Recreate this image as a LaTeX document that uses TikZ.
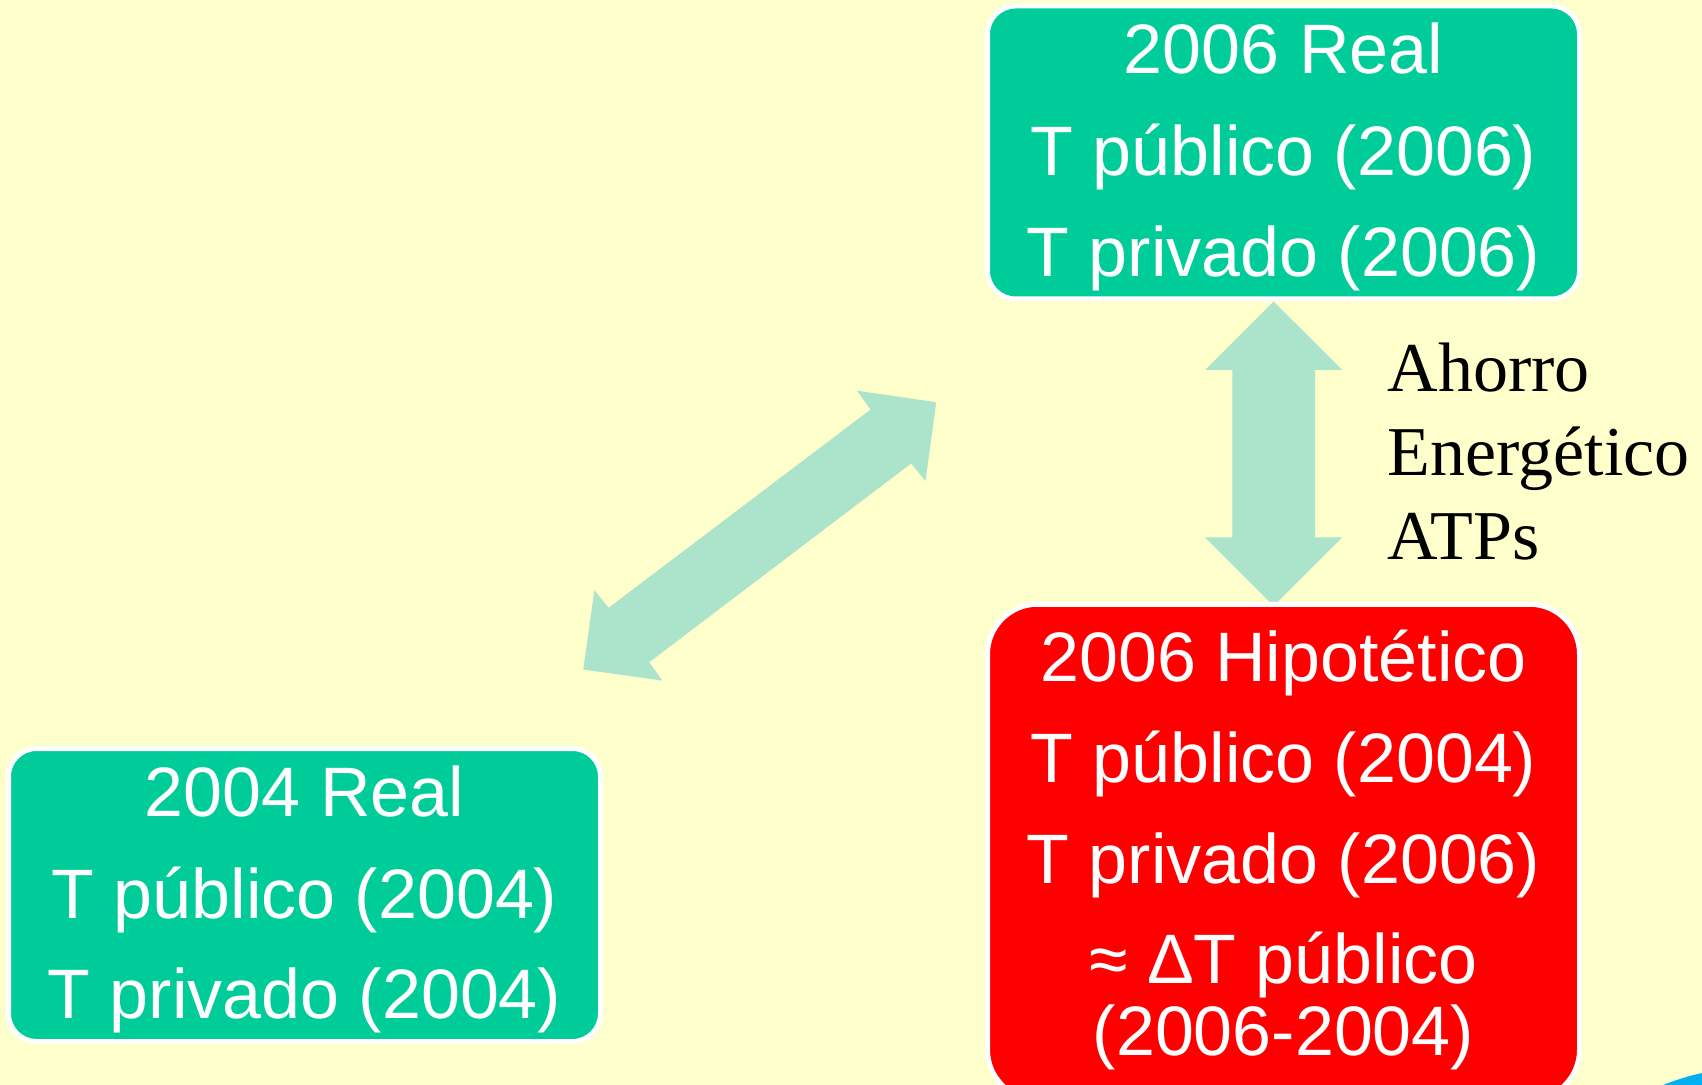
\documentclass[tikz,border=0pt]{standalone}
\usepackage{fontspec}
\newfontfamily\arialf{Liberation Sans}
\newfontfamily\timesf{Liberation Serif}
\definecolor{bg}{HTML}{FFFFCC}
\definecolor{boxgreen}{HTML}{00CC99}
\definecolor{boxred}{HTML}{FF0000}
\definecolor{arrowmint}{HTML}{ABE3CB}
\definecolor{decoblue}{HTML}{00B0F0}
\begin{document}
\begin{tikzpicture}[x=0.5pt,y=-0.5pt,
  greenbox/.style={draw=white, line width=2.5pt, fill=boxgreen, rounded corners=14pt,
    minimum width=296pt, minimum height=146.5pt, inner sep=0pt},
  redbox/.style={draw=white, line width=2.5pt, fill=boxred, rounded corners=25pt,
    minimum width=296pt, minimum height=247.75pt, inner sep=0pt},
  boxline/.style={anchor=base, text=white, inner sep=0pt,
    font=\arialf\fontsize{35}{35}\selectfont},
  sideline/.style={anchor=base west, text=black, inner sep=0pt,
    font=\timesf\fontsize{35}{35}\selectfont},
  blockarrow/.style={fill=arrowmint}]
\useasboundingbox (0,0) rectangle (1702,1085);
\clip (0,0) rectangle (1702,1085);
\fill[bg] (0,0) rectangle (1702,1085);
% decoration
\fill[decoblue] (1640,1095) .. controls (1670,1081) and (1690,1075) .. (1712,1071) -- (1712,1095) -- cycle;
% block arrows
\fill[blockarrow] (1273.7,301.5) -- (1342.3,370) -- (1315,370) -- (1315,537.3) -- (1342.3,537.3)
  -- (1273.7,606) -- (1205,537.3) -- (1232.3,537.3) -- (1232.3,370) -- (1205,370) -- cycle;
\fill[blockarrow] (936.2,402.2) -- (857,390.7) -- (870.5,409.6) -- (608.6,607.8) -- (594.4,590.2)
  -- (583.3,669.5) -- (662.4,680.6) -- (649.2,662.2) -- (911.2,463.4) -- (925.5,481) -- cycle;
% boxes
\node[greenbox] (real06) at (1283.5,152.5) {};
\node[greenbox] (real04) at (304.5,895) {};
\node[redbox] (hyp06) at (1283.5,852) {};
% texts top box
\node[boxline] (t1a) at (1283.5,74) {2006 Real};
\node[boxline] (t1b) at (1283.5,176) {T público (2006)};
\node[boxline] (t1c) at (1283.5,277) {T privado (2006)};
% texts bottom-left box
\node[boxline] (t2a) at (304.5,816) {2004 Real};
\node[boxline] (t2b) at (304.5,918) {T público (2004)};
\node[boxline] (t2c) at (304.5,1018) {T privado (2004)};
% texts red box
\node[boxline] (t3a) at (1283.5,681) {2006 Hipotético};
\node[boxline] (t3b) at (1283.5,782) {T público (2004)};
\node[boxline] (t3c) at (1283.5,883) {T privado (2006)};
\node[boxline] (t3d) at (1283.5,983) {≈ ΔT público};
\node[boxline] (t3e) at (1283.5,1055) {(2006-2004)};
% side label
\node[sideline] (s1) at (1387.3,391.7) {Ahorro};
\node[sideline] (s2) at (1387.3,475.7) {Energético};
\node[sideline] (s3) at (1387.3,559.3) {ATPs};
\end{tikzpicture}
\end{document}
